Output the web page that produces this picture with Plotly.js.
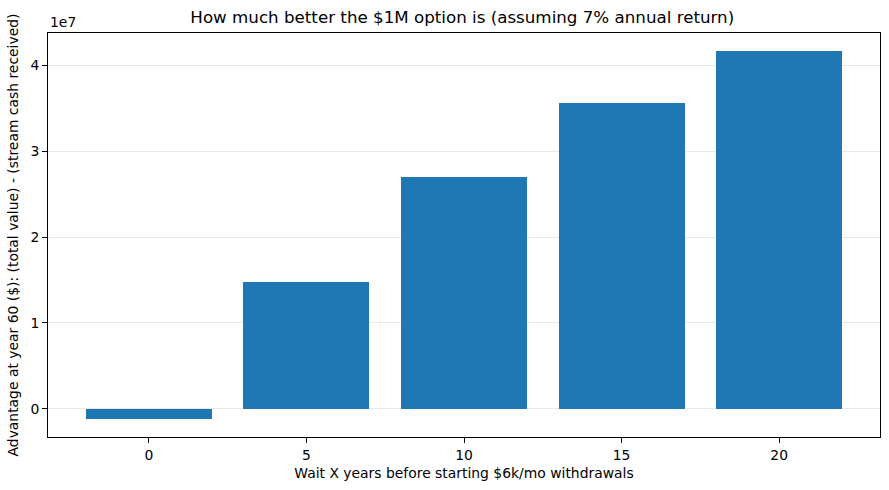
<!DOCTYPE html>
<html>
<head>
<meta charset="utf-8">
<script src="https://cdn.plot.ly/plotly-3.0.1.min.js"></script>
<style>html,body{margin:0;padding:0;background:#fff;}#chart{width:889px;height:490px;}</style>
</head>
<body>
<div id="chart"></div>
<script>
const waitYears = [0, 5, 10, 15, 20];
const advantage = [-1.2e6, 1.474e7, 2.70e7, 3.567e7, 4.164e7];
const yTickVals = [0, 1e7, 2e7, 3e7, 4e7];
const yTickText = ['0', '1', '2', '3', '4'];
const xTickVals = [0, 5, 10, 15, 20];

const font = {family: 'DejaVu Sans', size: 13.9, color: '#000'};

const trace = {
  type: 'bar',
  x: waitYears,
  y: advantage,
  width: 4,
  marker: {color: '#1f77b4', line: {width: 0}},
  hoverinfo: 'x+y'
};

const layout = {
  width: 889, height: 490,
  paper_bgcolor: '#fff', plot_bgcolor: '#fff',
  font: font,
  showlegend: false,
  margin: {l: 48, r: 9, t: 33, b: 53},
  title: {text: 'How much better the $1M option is (assuming 7% annual return)', font: {family: 'DejaVu Sans', size: 16.7, color: '#000'}, x: 0.52, xanchor: 'center', y: 0.965, yanchor: 'middle'},
  xaxis: {
    range: [-3.2, 23.2],
    tickvals: xTickVals,
    ticktext: xTickVals.map(String),
    ticks: 'outside', ticklen: 5, tickwidth: 1, tickcolor: '#000',
    showgrid: false, zeroline: false,
    showline: true, linecolor: '#000', linewidth: 1, mirror: true,
    tickfont: font,
    title: {text: 'Wait X years before starting $6k/mo withdrawals', font: font, standoff: 6}
  },
  yaxis: {
    range: [-3.3e6, 4.378e7],
    tickvals: yTickVals,
    ticktext: yTickText,
    ticks: 'outside', ticklen: 5, tickwidth: 1, tickcolor: '#000',
    showgrid: true, gridcolor: 'rgba(0,0,0,0.09)', gridwidth: 1,
    layer: 'above traces',
    zeroline: false,
    showline: true, linecolor: '#000', linewidth: 1, mirror: true,
    tickfont: font,
    title: {text: 'Advantage at year 60 ($): (total value) - (stream cash received)', font: font, standoff: 8}
  },
  annotations: [{
    text: '1e7', xref: 'paper', yref: 'paper', x: 0, y: 1, xanchor: 'left', yanchor: 'bottom',
    showarrow: false, font: font, yshift: 1
  }],
  bargap: 0
};

Plotly.newPlot('chart', [trace], layout, {displayModeBar: false, staticPlot: true});
</script>
</body>
</html>
